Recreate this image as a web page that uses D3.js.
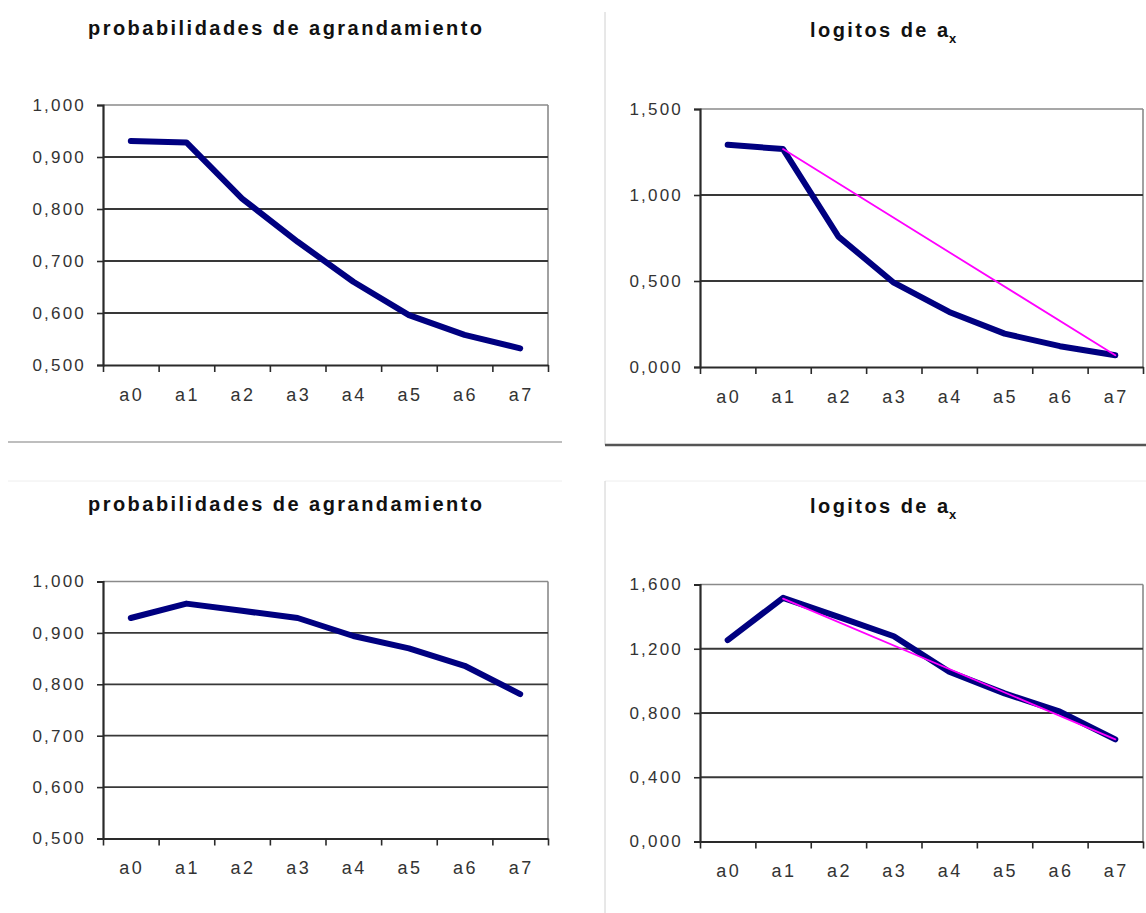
<!DOCTYPE html>
<html>
<head>
<meta charset="utf-8">
<script src="https://cdn.jsdelivr.net/npm/d3@7"></script>
<style>
  html, body { margin: 0; padding: 0; background: #fff; }
  svg { display: block; font-family: "Liberation Sans", Arial, sans-serif; }
</style>
</head>
<body>
<svg id="chart" width="1146" height="913"></svg>
<script>
// ---------- data ----------
const categories = ["a0", "a1", "a2", "a3", "a4", "a5", "a6", "a7"];

// top-left: probabilidades de agrandamiento (1)
const probA = [0.931, 0.928, 0.820, 0.737, 0.660, 0.596, 0.558, 0.532];
// top-right: logitos de a_x (1)
const logitA = [1.292, 1.267, 0.758, 0.490, 0.320, 0.194, 0.121, 0.068];
const logitFitA = [null, 1.267, null, null, null, null, null, 0.068];
// bottom-left: probabilidades de agrandamiento (2)
const probB = [0.929, 0.957, 0.943, 0.929, 0.894, 0.870, 0.836, 0.781];
// bottom-right: logitos de a_x (2)
const logitB = [1.254, 1.517, 1.398, 1.278, 1.057, 0.922, 0.808, 0.636];
const logitFitB = [null, 1.512, null, null, null, null, null, 0.636];

const probTicks = [0.5, 0.6, 0.7, 0.8, 0.9, 1.0];
const logitTicksA = [0, 0.5, 1.0, 1.5];
const logitTicksB = [0, 0.4, 0.8, 1.2, 1.6];

const probTitle = "probabilidades de agrandamiento";
const logitTitle = "logitos de a";
const logitSub = "x";

// ---------- drawing ----------
const svg = d3.select("#chart");
const fmt = d3.formatLocale({decimal: ",", thousands: ".", grouping: [3], currency: ["", ""]}).format(".3f");

const NAVY = "#000080", MAGENTA = "#ff00ff";
const FONT = "Liberation Sans, Arial, sans-serif";

// panel separators
svg.append("line").attr("x1", 8).attr("x2", 562).attr("y1", 442).attr("y2", 442)
  .attr("stroke", "#a8a8a8").attr("stroke-width", 1.5);
svg.append("line").attr("x1", 605).attr("x2", 605).attr("y1", 12).attr("y2", 445)
  .attr("stroke", "#d0d0d0").attr("stroke-width", 1);
svg.append("line").attr("x1", 605).attr("x2", 1146).attr("y1", 445).attr("y2", 445)
  .attr("stroke", "#555").attr("stroke-width", 2.5);
svg.append("line").attr("x1", 8).attr("x2", 562).attr("y1", 481).attr("y2", 481)
  .attr("stroke", "#eeeeee").attr("stroke-width", 1);
svg.append("line").attr("x1", 605).attr("x2", 1146).attr("y1", 481).attr("y2", 481)
  .attr("stroke", "#eeeeee").attr("stroke-width", 1);
svg.append("line").attr("x1", 605).attr("x2", 605).attr("y1", 481).attr("y2", 913)
  .attr("stroke", "#d0d0d0").attr("stroke-width", 1);

function panel(cfg) {
  const {x0, x1, y0, y1, domain, ticks, series, titleCx, titleY, titleLen, sub} = cfg;
  const g = svg.append("g");

  const x = d3.scaleBand().domain(categories).range([x0, x1]).padding(0);
  const xEdge = d3.scaleLinear().domain([0, categories.length]).range([x0, x1]);
  const y = d3.scaleLinear().domain(domain).range([y1, y0]);

  // plot border top/right
  g.append("line").attr("x1", x0).attr("x2", x1).attr("y1", y0).attr("y2", y0)
    .attr("stroke", "#8a8a8a").attr("stroke-width", 1.6);
  g.append("line").attr("x1", x1).attr("x2", x1).attr("y1", y0).attr("y2", y1)
    .attr("stroke", "#8a8a8a").attr("stroke-width", 1.6);

  // gridlines
  g.append("g").selectAll("line")
    .data(ticks.filter(t => t !== domain[0] && t !== domain[1]))
    .join("line")
    .attr("x1", x0).attr("x2", x1)
    .attr("y1", d => y(d)).attr("y2", d => y(d))
    .attr("stroke", "#383838").attr("stroke-width", 1.8);

  // y axis
  const ya = g.append("g").attr("transform", `translate(${x0},0)`)
    .call(d3.axisLeft(y).tickValues(ticks).tickFormat(fmt).tickSize(6).tickPadding(11));
  ya.select(".domain").attr("stroke", "#2a2a2a").attr("stroke-width", 2.2);
  ya.selectAll(".tick line").attr("stroke", "#2a2a2a").attr("stroke-width", 1.6);
  ya.selectAll("text").attr("font-size", 17).attr("fill", "#333")
    .attr("letter-spacing", "2.2px").attr("font-family", FONT);

  // x axis ticks at band edges
  const xt = g.append("g").attr("transform", `translate(0,${y1})`)
    .call(d3.axisBottom(xEdge).tickValues(d3.range(categories.length + 1)).tickFormat("").tickSize(7).tickSizeOuter(0));
  xt.select(".domain").attr("stroke", "#2a2a2a").attr("stroke-width", 2.2);
  xt.selectAll(".tick line").attr("stroke", "#2a2a2a").attr("stroke-width", 1.6);

  // x axis labels at band centers
  const xl = g.append("g").attr("transform", `translate(0,${y1})`)
    .call(d3.axisBottom(x).tickSize(0).tickPadding(23));
  xl.select(".domain").remove();
  xl.selectAll("text").attr("font-size", 18).attr("fill", "#333")
    .attr("letter-spacing", "2.5px").attr("font-family", FONT)
    .attr("dx", "1px");

  // series
  const line = d3.line().x(d => x(d.c) + x.bandwidth() / 2).y(d => y(d.v));
  series.forEach(s => {
    const pts = categories.map((c, i) => ({c, v: s.values[i]})).filter(d => d.v != null);
    g.append("path").datum(pts)
      .attr("d", line)
      .attr("fill", "none")
      .attr("stroke", s.color)
      .attr("stroke-width", s.width)
      .attr("stroke-linejoin", "round")
      .attr("stroke-linecap", "round");
  });

  // title
  g.append("text")
    .attr("x", titleCx).attr("y", titleY)
    .attr("text-anchor", "middle")
    .attr("font-size", 20).attr("font-weight", "bold").attr("fill", "#111")
    .attr("font-family", FONT)
    .attr("textLength", titleLen).attr("lengthAdjust", "spacing")
    .text(cfg.title);
  if (sub) {
    g.append("text")
      .attr("x", titleCx + titleLen / 2 + 1).attr("y", titleY + 6)
      .attr("font-size", 13).attr("font-weight", "bold").attr("fill", "#111")
      .attr("font-family", FONT)
      .text(sub);
  }
}

panel({x0: 103, x1: 548, y0: 105, y1: 365, domain: [0.5, 1.0], ticks: probTicks,
  series: [{values: probA, color: NAVY, width: 6}],
  title: probTitle, titleCx: 285, titleY: 35, titleLen: 394});

panel({x0: 700, x1: 1143, y0: 109, y1: 367, domain: [0, 1.5], ticks: logitTicksA,
  series: [{values: logitA, color: NAVY, width: 6}, {values: logitFitA, color: MAGENTA, width: 1.8}],
  title: logitTitle, titleCx: 879, titleY: 37, titleLen: 138, sub: logitSub});

panel({x0: 103, x1: 548, y0: 581.5, y1: 838.5, domain: [0.5, 1.0], ticks: probTicks,
  series: [{values: probB, color: NAVY, width: 6}],
  title: probTitle, titleCx: 285, titleY: 511, titleLen: 394});

panel({x0: 700, x1: 1143, y0: 584.5, y1: 841.5, domain: [0, 1.6], ticks: logitTicksB,
  series: [{values: logitB, color: NAVY, width: 6}, {values: logitFitB, color: MAGENTA, width: 1.8}],
  title: logitTitle, titleCx: 879, titleY: 513, titleLen: 138, sub: logitSub});
</script>
</body>
</html>
